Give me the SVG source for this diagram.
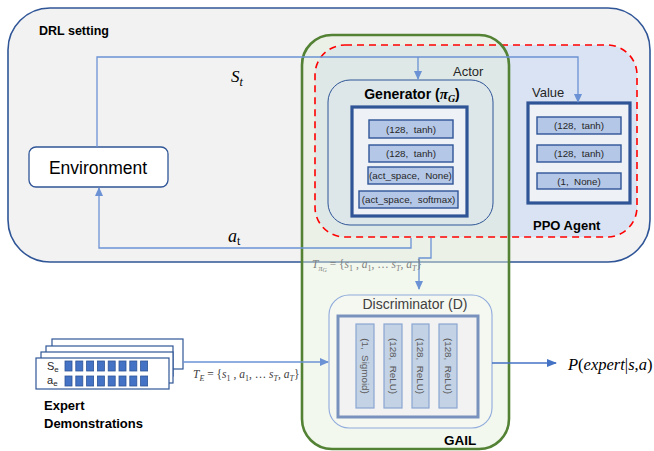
<svg xmlns="http://www.w3.org/2000/svg" width="654" height="451" viewBox="0 0 654 451">
<defs>
<style>
.s{font-family:"Liberation Sans",Arial,sans-serif}
.b{font-weight:bold}
.m{font-family:"Liberation Serif","Times New Roman",serif}
.i{font-style:italic}
.conn{fill:none;stroke:#6b92d4;stroke-width:1.3}
.lay{fill:#b4c7e7;stroke:#2f5597;stroke-width:1.4}
.lt{font-family:"Liberation Sans",Arial,sans-serif;font-size:9.8px;fill:#262626;text-anchor:middle;white-space:pre}
.dlay{fill:#c3d2e5;stroke:#8aa6d3;stroke-width:1.2}
.dt{font-family:"Liberation Sans",Arial,sans-serif;font-size:9.8px;fill:#595959;text-anchor:middle;white-space:pre}
.sq{fill:#4472c4;stroke:#2f5597;stroke-width:0.8}
.stack{fill:#ffffff;stroke:#2f5597;stroke-width:1.2}
</style>
<marker id="ah" markerUnits="userSpaceOnUse" markerWidth="9" markerHeight="8" refX="8" refY="4" orient="auto">
<path d="M0,0 L9,4 L0,8 z" fill="#6b92d4"/>
</marker>
<marker id="ahd" markerUnits="userSpaceOnUse" markerWidth="10" markerHeight="8" refX="9" refY="4" orient="auto">
<path d="M0,0 L10,4 L0,8 z" fill="#4472c4"/>
</marker>
</defs>

<g id="drl-setting">
<rect x="8" y="8" width="642" height="254" rx="42" fill="#f2f2f2" stroke="#2f5597" stroke-width="1.6"/>
<text class="s b" x="39" y="35" font-size="12.5" fill="#000">DRL setting</text>
</g>

<g id="ppo-agent">
<rect x="315" y="45" width="322" height="192" rx="30" fill="#dae3f3"/>
<text class="s b" x="533" y="230" font-size="13" fill="#000">PPO Agent</text>
</g>

<g id="gail">
<rect x="302" y="35" width="207" height="414" rx="30" fill="#e2efd9" fill-opacity="0.45"/>
<rect x="315" y="45" width="322" height="192" rx="30" fill="none" stroke="#ff0000" stroke-width="1.6" stroke-dasharray="7,5"/>
<rect x="302" y="35" width="207" height="414" rx="30" fill="none" stroke="#548235" stroke-width="2.6"/>
<text class="s b" x="444" y="445" font-size="13.5" fill="#000">GAIL</text>
</g>

<g id="actor">
<rect x="328" y="80" width="165" height="145" rx="22" fill="#dde4ee" fill-opacity="0.4" stroke="#2f5597" stroke-width="1"/>
<text class="s" x="453" y="76" font-size="13" fill="#262626">Actor</text>
</g>

<g id="generator">
<text class="s b" x="412" y="99" font-size="14" text-anchor="middle" fill="#000">Generator (<tspan class="m i" font-size="15">π</tspan><tspan class="m i" font-size="10" dy="3">G</tspan><tspan dy="-3">)</tspan></text>
<rect x="352" y="107" width="115" height="109" fill="#eef1f6" stroke="#2f5597" stroke-width="3.2"/>
<rect class="lay" x="369" y="120" width="84" height="18"/>
<text class="lt" x="411" y="132.5">(128,  tanh)</text>
<rect class="lay" x="369" y="145" width="84" height="17"/>
<text class="lt" x="411" y="157">(128,  tanh)</text>
<rect class="lay" x="368" y="167" width="85" height="17"/>
<text class="lt" x="410.5" y="179">(act_space,  None)</text>
<rect class="lay" x="359" y="191" width="99" height="17"/>
<text class="lt" x="408.5" y="203">(act_space,  softmax)</text>
</g>

<g id="value">
<text class="s" x="532" y="97" font-size="13" fill="#262626">Value</text>
<rect x="528" y="103" width="102" height="100" fill="#eef1f6" stroke="#2f5597" stroke-width="3.2"/>
<rect class="lay" x="537" y="117" width="84" height="17"/>
<text class="lt" x="579" y="129">(128,  tanh)</text>
<rect class="lay" x="537" y="145" width="84" height="17"/>
<text class="lt" x="579" y="157">(128,  tanh)</text>
<rect class="lay" x="537" y="173" width="84" height="16"/>
<text class="lt" x="579" y="184.5">(1,  None)</text>
</g>

<g id="environment">
<rect x="29" y="147" width="139" height="40" rx="7" fill="#ffffff" stroke="#2f5597" stroke-width="1.3"/>
<text class="s" x="98" y="173.5" font-size="17.5" text-anchor="middle" fill="#000">Environment</text>
</g>

<g id="discriminator">
<rect x="329" y="295" width="163" height="133" rx="20" fill="#f5f8f1" stroke="#8faadc" stroke-width="1.1"/>
<text class="s" x="415" y="309" font-size="14" text-anchor="middle" fill="#404040">Discriminator (D)</text>
<rect x="338" y="316" width="140" height="101" fill="#f2f2f2" stroke="#7891bd" stroke-width="3"/>
<rect class="dlay" x="356" y="324" width="18" height="84"/>
<text class="dt" transform="translate(365,366) rotate(90)" y="3.5">(1,  Sigmoid)</text>
<rect class="dlay" x="384" y="324" width="18" height="84"/>
<text class="dt" transform="translate(393,366) rotate(90)" y="3.5">(128,  ReLU)</text>
<rect class="dlay" x="412" y="324" width="17" height="84"/>
<text class="dt" transform="translate(420.5,366) rotate(90)" y="3.5">(128,  ReLU)</text>
<rect class="dlay" x="439" y="324" width="18" height="84"/>
<text class="dt" transform="translate(448,366) rotate(90)" y="3.5">(128,  ReLU)</text>
</g>

<g id="expert-demonstrations">
<rect class="stack" x="52" y="339" width="131" height="30"/>
<rect class="stack" x="46" y="346" width="127" height="30"/>
<rect class="stack" x="41" y="352" width="132" height="31"/>
<rect class="stack" x="36" y="358" width="133" height="31"/>
<text class="s" x="47" y="370" font-size="11" fill="#262626">S<tspan font-size="8" dy="2">e</tspan></text>
<text class="s" x="47" y="384" font-size="11" fill="#262626">a<tspan font-size="8" dy="2">e</tspan></text>
<g>
<rect class="sq" x="65" y="361" width="7" height="10"/><rect class="sq" x="75.8" y="361" width="7" height="10"/><rect class="sq" x="86.6" y="361" width="7" height="10"/><rect class="sq" x="97.4" y="361" width="7" height="10"/><rect class="sq" x="108.2" y="361" width="7" height="10"/><rect class="sq" x="119" y="361" width="7" height="10"/><rect class="sq" x="129.8" y="361" width="7" height="10"/><rect class="sq" x="140.6" y="361" width="7" height="10"/>
<rect class="sq" x="65" y="376" width="7" height="10"/><rect class="sq" x="75.8" y="376" width="7" height="10"/><rect class="sq" x="86.6" y="376" width="7" height="10"/><rect class="sq" x="97.4" y="376" width="7" height="10"/><rect class="sq" x="108.2" y="376" width="7" height="10"/><rect class="sq" x="119" y="376" width="7" height="10"/><rect class="sq" x="129.8" y="376" width="7" height="10"/><rect class="sq" x="140.6" y="376" width="7" height="10"/>
</g>
<text class="s b" x="44" y="410" font-size="13" fill="#000">Expert</text>
<text class="s b" x="44" y="428" font-size="13" fill="#000">Demonstrations</text>
</g>

<g id="connectors">
<path class="conn" d="M97,147 V57 H578 V102" marker-end="url(#ah)"/>
<path class="conn" d="M418,57 V79" marker-end="url(#ah)"/>
<path class="conn" d="M411,238 V248 H99 V188" marker-end="url(#ah)"/>
<path class="conn" d="M431,238 V258 H419 V289" marker-end="url(#ah)"/>
<path class="conn" d="M183,362 H328" marker-end="url(#ah)"/>
<path d="M492,363 H556" fill="none" stroke="#4472c4" stroke-width="1.4" marker-end="url(#ahd)"/>
</g>

<g id="labels">
<text class="m i" x="231" y="82" font-size="17" fill="#000">S<tspan font-size="12" dy="3.5">t</tspan></text>
<text class="m i" x="228" y="242" font-size="18" fill="#000">a<tspan font-size="12" dy="3" font-style="normal">t</tspan></text>
<text class="m" x="312" y="268" font-size="11.5" fill="#7f7f7f"><tspan class="i">T</tspan><tspan class="i" font-size="8" dy="2.5">π</tspan><tspan class="i" font-size="6" dy="1">G</tspan><tspan dy="-3.5"> = {</tspan><tspan class="i">s</tspan><tspan font-size="8" dy="2.5">1</tspan><tspan dy="-2.5"> , </tspan><tspan class="i">a</tspan><tspan font-size="8" dy="2.5">1</tspan><tspan dy="-2.5">, … </tspan><tspan class="i">s</tspan><tspan class="i" font-size="8" dy="2.5">T</tspan><tspan dy="-2.5">, </tspan><tspan class="i">a</tspan><tspan class="i" font-size="8" dy="2.5">T</tspan><tspan dy="-2.5">}</tspan></text>
<text class="m" x="193" y="378" font-size="11.5" fill="#404040"><tspan class="i">T</tspan><tspan class="i" font-size="8" dy="2.5">E</tspan><tspan dy="-2.5"> = {</tspan><tspan class="i">s</tspan><tspan font-size="8" dy="2.5">1</tspan><tspan dy="-2.5"> , </tspan><tspan class="i">a</tspan><tspan font-size="8" dy="2.5">1</tspan><tspan dy="-2.5">, … </tspan><tspan class="i">s</tspan><tspan class="i" font-size="8" dy="2.5">T</tspan><tspan dy="-2.5">, </tspan><tspan class="i">a</tspan><tspan class="i" font-size="8" dy="2.5">T</tspan><tspan dy="-2.5">}</tspan></text>
<text class="m" x="568" y="370" font-size="16.5" fill="#000"><tspan class="i">P</tspan>(<tspan class="i">expert</tspan>|<tspan class="i">s</tspan>,<tspan class="i">a</tspan>)</text>
</g>
</svg>
